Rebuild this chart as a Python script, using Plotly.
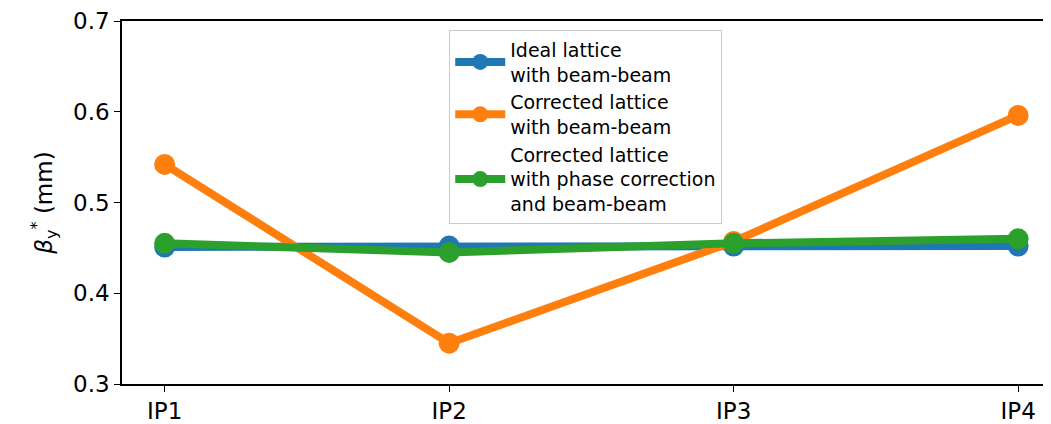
import plotly.graph_objects as go

categories = ["IP1", "IP2", "IP3", "IP4"]
ideal = [0.451, 0.452, 0.452, 0.452]
corrected = [0.542, 0.345, 0.457, 0.596]
phase_corr = [0.455, 0.445, 0.455, 0.460]
names = ["Ideal lattice<br>with beam-beam",
         "Corrected lattice<br>with beam-beam",
         "Corrected lattice<br>with phase correction<br>and beam-beam"]
colors = ["#1f77b4", "#ff7f0e", "#2ca02c"]
y_ticks = [0.3, 0.4, 0.5, 0.6, 0.7]

xs = list(range(len(categories)))
fig = go.Figure()
for vals, name, c in zip([ideal, corrected, phase_corr], names, colors):
    fig.add_trace(go.Scatter(x=xs, y=vals, name=name, mode="lines+markers",
                             line=dict(color=c, width=8),
                             marker=dict(color=c, size=21)))

fig.update_layout(
    width=1043, height=416,
    margin=dict(l=114, r=0, t=10, b=37),
    plot_bgcolor="white", paper_bgcolor="white",
    font=dict(family="DejaVu Sans", color="#000000", size=23),
    showlegend=True,
    legend=dict(x=0.353, y=0.976, xanchor="left", yanchor="top",
                bgcolor="rgba(255,255,255,0.8)", bordercolor="#cccccc", borderwidth=1,
                font=dict(size=19, family="DejaVu Sans"), itemwidth=50),
    xaxis=dict(tickmode="array", tickvals=xs, ticktext=categories,
               range=[-0.15, 3.1085], showgrid=False, zeroline=False,
               showline=True, linecolor="black", linewidth=1.5, mirror=True,
               ticks="outside", ticklen=6, tickcolor="black",
               tickfont=dict(size=23, family="DejaVu Sans")),
    yaxis=dict(tickmode="array", tickvals=y_ticks,
               ticktext=[f"{v:.1f}" for v in y_ticks],
               range=[0.3, 0.7], showgrid=False, zeroline=False,
               showline=True, linecolor="black", linewidth=1.5, mirror=True,
               ticks="outside", ticklen=6, tickcolor="black",
               ticklabeloverflow="allow",
               tickfont=dict(size=23, family="DejaVu Sans"),
               title=dict(text="<i>β</i><sub>y</sub><sup>*</sup> (mm)",
                          font=dict(size=23, family="DejaVu Sans"), standoff=14)),
)
fig.write_html("out.html")
